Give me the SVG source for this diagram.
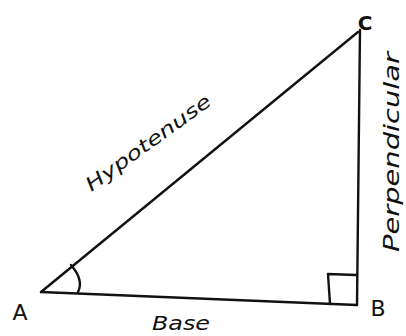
<svg xmlns="http://www.w3.org/2000/svg" width="406" height="336" viewBox="0 0 406 336">
<style>
.ln{stroke:#111;stroke-width:2.4;fill:none;stroke-linecap:round;stroke-linejoin:round}
.lbl{font-family:"DejaVu Sans","Liberation Sans",sans-serif;fill:#111}
</style>
<rect width="406" height="336" fill="#fff"/>
<g id="connectors">
<path class="ln" d="M41,292 L358,32"/>
<path class="ln" d="M41,292 L357,305"/>
<path class="ln" d="M360,30 L357,305"/>
<path class="ln" d="M71,265 Q84,280 78,292"/>
<path class="ln" d="M330,304 L328,274 L356,275"/>
</g>
<g id="A"><text class="lbl" x="20" y="320" font-size="22" text-anchor="middle">A</text></g>
<g id="B"><text class="lbl" x="378" y="316" font-size="22" text-anchor="middle">B</text></g>
<g id="C"><text class="lbl" x="365" y="30" font-size="20" font-weight="bold" text-anchor="middle">C</text></g>
<g id="hyp"><text class="lbl" font-size="19" font-style="italic" text-anchor="middle" textLength="150" lengthAdjust="spacingAndGlyphs" transform="translate(152,148) rotate(-36)">Hypotenuse</text></g>
<g id="perp"><text class="lbl" font-size="22" font-style="italic" text-anchor="middle" textLength="200" lengthAdjust="spacingAndGlyphs" transform="translate(399,152) rotate(-90)">Perpendicular</text></g>
<g id="base"><text class="lbl" x="181" y="330" font-size="20" font-style="italic" text-anchor="middle" textLength="58" lengthAdjust="spacingAndGlyphs">Base</text></g>
</svg>
